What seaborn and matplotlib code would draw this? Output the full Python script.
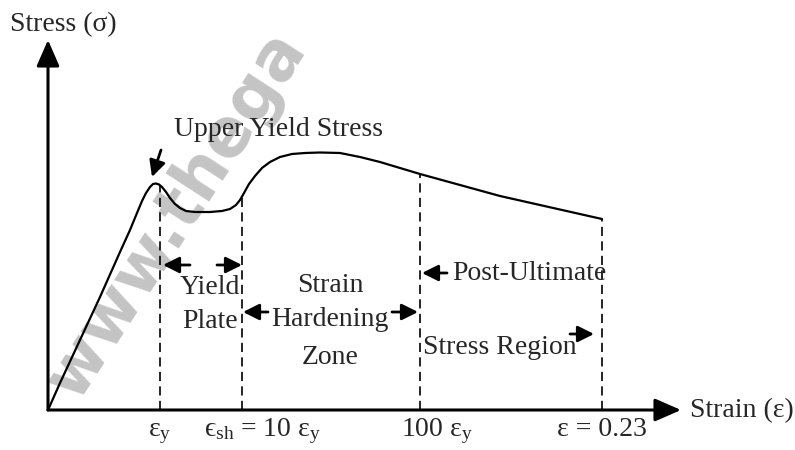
import matplotlib
matplotlib.use("Agg")
import matplotlib.pyplot as plt
import seaborn as sns
import pandas as pd

# ---- data (schematic units: strain along x, stress along y) ----
curve_strain = [0, 12, 32, 52, 72, 82, 89, 94, 98, 102, 105, 108, 111, 114, 118, 122,
                127, 132, 138, 147, 162, 174, 182, 188, 192, 196, 201, 207, 214, 222,
                232, 244, 257, 272, 292, 312, 332, 352, 372, 452, 554]
curve_stress = [0, 27, 70, 113, 158, 180, 197, 209, 217, 223, 226, 226.5, 225.5, 223,
                218, 212, 206, 202, 199, 198, 198, 199, 201, 205, 210, 217, 226, 234,
                242, 248, 253, 256, 257, 257.5, 257, 253, 248, 242, 236, 214, 191]

mark_strain = [112, 194, 372, 554]
mark_stress = [224.5, 213, 236, 191]
mark_labels = ["ε$_\\mathrm{y}$", "ϵ$_\\mathrm{sh}$ = 10 ε$_\\mathrm{y}$",
               "100 ε$_\\mathrm{y}$", "ε = 0.23"]
mark_label_x = [112, 215, 389, 554]

axis_x_end = 633
axis_y_end = 370

sns.set_theme(style="white")
plt.rcParams["font.family"] = ["Liberation Serif", "DejaVu Serif"]
plt.rcParams["mathtext.fontset"] = "custom"
plt.rcParams["mathtext.rm"] = "Liberation Serif"
plt.rcParams["mathtext.it"] = "Liberation Serif:italic"
plt.rcParams["mathtext.fallback"] = "stix"

fig = plt.figure(figsize=(7.95, 4.5), dpi=100)
ax = fig.add_axes([0, 0, 1, 1])
ax.set_xlim(-48, 747)
ax.set_ylim(-40, 410)
ax.axis("off")

FS = 20

# watermark
ax.text(28, 8, "www.thega", fontfamily="DejaVu Sans", fontweight="bold",
        fontsize=48, color="#c4c4c4", rotation=57, rotation_mode="anchor",
        ha="left", va="baseline", zorder=0)

df = pd.DataFrame({"strain": curve_strain, "stress": curve_stress})
sns.lineplot(data=df, x="strain", y="stress", sort=False, color="black",
             linewidth=1.6, ax=ax, zorder=3)

# dashed verticals
ax.vlines(mark_strain, [0] * len(mark_strain), mark_stress, colors="black",
          linewidth=1.2, linestyles=(0, (5.5, 3.2)), zorder=2)

# axes arrows
axis_kw = dict(arrowstyle="-|>,head_length=0.8,head_width=0.35", lw=2.2,
               color="black", shrinkA=0, shrinkB=0, mutation_scale=20)
ax.annotate("", xy=(axis_x_end, 0), xytext=(0, 0), arrowprops=axis_kw, zorder=4)
ax.annotate("", xy=(0, axis_y_end), xytext=(0, 0), arrowprops=axis_kw, zorder=4)

ax.text(-38, 385, "Stress (σ)", fontsize=FS, ha="left", va="center")
ax.text(642, -1, "Strain (ε)", fontsize=FS, ha="left", va="center")

for xl, lab in zip(mark_label_x, mark_labels):
    ax.text(xl, -26, lab, fontsize=FS, ha="center", va="baseline")

# annotations
ak = dict(arrowstyle="-|>,head_length=0.7,head_width=0.35", lw=2, color="black",
          shrinkA=0, shrinkB=0, mutation_scale=14)

def arrow(x0, y0, x1, y1):
    ax.annotate("", xy=(x1, y1), xytext=(x0, y0), arrowprops=ak, zorder=4)

ax.text(231, 280, "Upper Yield Stress", fontsize=FS, ha="center", va="center")
arrow(113, 260, 104, 233)

ax.text(162, 123, "Yield", fontsize=FS, ha="center", va="center")
ax.text(162, 88, "Plate", fontsize=FS, ha="center", va="center")
arrow(142, 145, 115, 145)
arrow(169, 145, 194, 145)

ax.text(282, 125, "Strain", fontsize=FS, ha="center", va="center")
ax.text(282, 90, "Hardening", fontsize=FS, ha="center", va="center")
ax.text(282, 53, "Zone", fontsize=FS, ha="center", va="center")
arrow(220, 98, 195, 98)
arrow(344, 98, 370, 98)

ax.text(404, 137, "Post-Ultimate", fontsize=FS, ha="left", va="center")
arrow(399, 137, 374, 137)
ax.text(375, 63, "Stress Region", fontsize=FS, ha="left", va="center")
arrow(522, 76, 546, 76)

fig.savefig("out.png", dpi=100)
